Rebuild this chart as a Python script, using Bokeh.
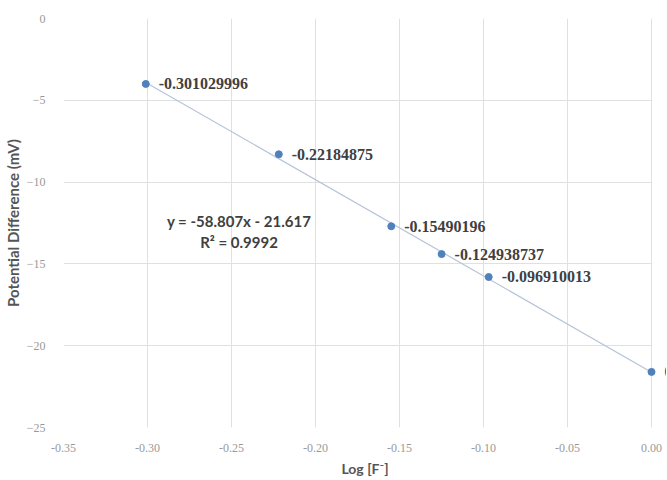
from bokeh.plotting import figure
from bokeh.models import ColumnDataSource, LabelSet, Label, FixedTicker, NumeralTickFormatter, Range1d
from bokeh.embed import file_html
from bokeh.resources import INLINE

log_f = [-0.301029996, -0.22184875, -0.15490196, -0.124938737, -0.096910013, 0.0]
potential = [-4.0, -8.3, -12.7, -14.4, -15.8, -21.6]
point_labels = ["-0.301029996", "-0.22184875", "-0.15490196", "-0.124938737", "-0.096910013", "0"]
slope = -58.807
intercept = -21.617
equation = "y = -58.807x - 21.617"
r2_text = "R² = 0.9992"
x_ticks = [-0.35, -0.30, -0.25, -0.20, -0.15, -0.10, -0.05, 0.0]
y_ticks = [0, -5, -10, -15, -20, -25]

X_MIN, X_MAX = -0.35, 0.0
X_PAD = 0.35 * 15 / 588  # room on the right so the last label can show

p = figure(frame_width=603, frame_height=409, min_border_left=56, min_border_right=0,
           min_border_top=18, min_border_bottom=53,
           x_range=Range1d(X_MIN, X_MAX + X_PAD), y_range=Range1d(-25, 0),
           output_backend="svg", toolbar_location=None)
p.outline_line_color = None
p.background_fill_color = "white"

for ax in (p.xaxis, p.yaxis):
    ax.axis_line_color = None
    ax.major_tick_line_color = None
    ax.minor_tick_line_color = None
    ax.major_label_text_color = "#999999"
    ax.major_label_text_font = "Liberation Serif"
    ax.major_label_text_font_size = "12px"
    ax.axis_label_text_color = "#555555"
    ax.axis_label_text_font = "Lato"
    ax.axis_label_text_font_style = "bold"
    ax.axis_label_text_font_size = "14px"

p.yaxis.axis_label_text_font_size = "15px"
p.xaxis.ticker = FixedTicker(ticks=x_ticks)
p.yaxis.ticker = FixedTicker(ticks=y_ticks)
p.xaxis.formatter = NumeralTickFormatter(format="0.00")
p.xaxis.axis_label = "Log [F⁻]"
p.yaxis.axis_label = "Potential Difference (mV)"
p.xaxis.major_label_standoff = 10
p.yaxis.major_label_standoff = 12
p.xaxis.axis_label_standoff = 5
p.yaxis.axis_label_standoff = 2

p.xgrid.grid_line_color = "#e0e0e0"
p.ygrid.grid_line_color = "#e0e0e0"

# white mask to end the horizontal grid lines at x = 0
p.quad(left=[X_MAX + 0.0004], right=[X_MAX + X_PAD], bottom=[-25.2], top=[0.2],
       fill_color="white", line_color=None)

tx = [log_f[0], log_f[-1]]
ty = [slope * x + intercept for x in tx]
p.line(tx, ty, line_color="#b4c4da", line_width=1.2)

src = ColumnDataSource(dict(x=log_f, y=potential, t=point_labels))
p.scatter("x", "y", source=src, size=7, color="#4f81bd", line_color="#4f81bd")

labels = LabelSet(x="x", y="y", text="t", source=src, x_offset=13, y_offset=0,
                  text_baseline="middle", text_font="Lato", text_font_style="bold",
                  text_font_size="16px", text_color="#404040")
p.add_layout(labels)

p.add_layout(Label(x=-0.2455, y=-12.4, text=equation, text_align="center", text_baseline="middle",
                   text_font="Lato", text_font_style="bold", text_font_size="15px", text_color="#404040"))
p.add_layout(Label(x=-0.2455, y=-13.65, text=r2_text, text_align="center", text_baseline="middle",
                   text_font="Lato", text_font_style="bold", text_font_size="15px", text_color="#404040"))

open("out.html", "w").write(file_html(p, INLINE))
